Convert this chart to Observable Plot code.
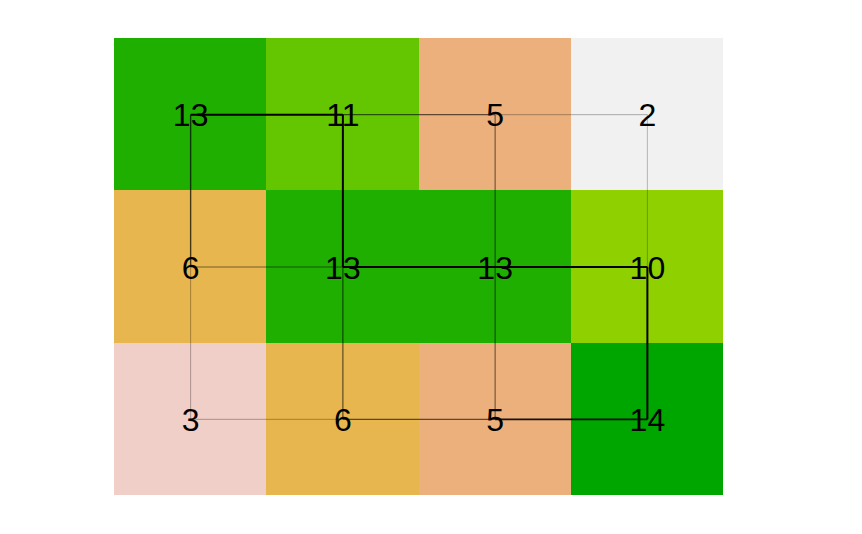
<!DOCTYPE html>
<html>
<head>
<meta charset="utf-8">
<script src="https://cdn.jsdelivr.net/npm/d3@7"></script>
<script src="https://cdn.jsdelivr.net/npm/@observablehq/plot@0.6"></script>
<style>
  html, body { margin: 0; padding: 0; background: #ffffff; }
</style>
</head>
<body>
<div id="chart"></div>
<script>
// Grid values (rows top to bottom, columns left to right)
const row1 = [13, 11, 5, 2];
const row2 = [6, 13, 13, 10];
const row3 = [3, 6, 5, 14];
const gridRows = [row1, row2, row3];

// Colour palette keyed by value (terrain-like)
const colorDomain = [2, 3, 5, 6, 10, 11, 13, 14];
const colorRange = ["#f1f1f1", "#f0cfc8", "#ebb07b", "#e8b64f", "#8fd000", "#63c600", "#1faf00", "#00a600"];

// Edge strengths between neighbouring cells
const hEdges1 = [1.0, 0.6, 0.3];   // row 1: c -> c+1
const hEdges2 = [0.5, 1.0, 1.0];   // row 2
const hEdges3 = [0.3, 0.6, 0.9];   // row 3
const vEdges1 = [0.7, 1.0, 0.55, 0.25]; // row1 -> row2, per column
const vEdges2 = [0.3, 0.6, 0.55, 1.0];  // row2 -> row3, per column

const cells = [];
gridRows.forEach((r, ri) => r.forEach((v, ci) => cells.push({row: ri, col: ci, value: v})));

const edges = [];
[hEdges1, hEdges2, hEdges3].forEach((es, ri) => es.forEach((w, ci) =>
  edges.push({r1: ri, c1: ci, r2: ri, c2: ci + 1, w})));
[vEdges1, vEdges2].forEach((es, ri) => es.forEach((w, ci) =>
  edges.push({r1: ri, c1: ci, r2: ri + 1, c2: ci, w})));

const chart = Plot.plot({
  width: 862,
  height: 534,
  marginLeft: 114,
  marginRight: 139,
  marginTop: 38,
  marginBottom: 39,
  x: {domain: [0, 4], axis: null},
  y: {domain: [0, 3], reverse: true, axis: null},
  color: {type: "ordinal", domain: colorDomain, range: colorRange},
  style: {background: "#ffffff"},
  marks: [
    Plot.rect(cells, {
      x1: d => d.col, x2: d => d.col + 1,
      y1: d => d.row, y2: d => d.row + 1,
      fill: d => d.value,
      shapeRendering: "crispEdges"
    }),
    Plot.link(edges, {
      x1: d => d.c1 + 0.5, y1: d => d.r1 + 0.5,
      x2: d => d.c2 + 0.5, y2: d => d.r2 + 0.5,
      stroke: "black",
      strokeOpacity: d => d.w,
      strokeWidth: d => Math.max(1, 2 * d.w)
    }),
    Plot.text(cells, {
      x: d => d.col + 0.5,
      y: d => d.row + 0.5,
      text: d => String(d.value),
      fill: "black",
      fontSize: 32,
      fontFamily: "Liberation Sans, Arial, sans-serif",
      dy: 1.5
    })
  ]
});
document.getElementById("chart").appendChild(chart);
</script>
</body>
</html>
